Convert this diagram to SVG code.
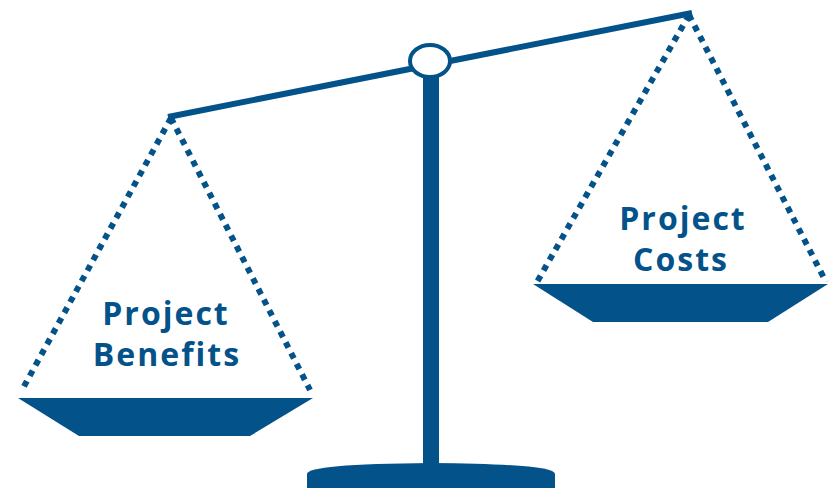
<svg xmlns="http://www.w3.org/2000/svg" width="829" height="488" viewBox="0 0 829 488">
<style>
.c{fill:#03528a}
.dot{fill:none;stroke:#03528a;stroke-width:6;stroke-dasharray:6 6}
.t{font-family:"Open Sans","Liberation Sans",sans-serif;font-weight:bold;font-size:32px;letter-spacing:2px;fill:#03528a;text-anchor:middle}
</style>
<rect width="829" height="488" fill="#ffffff"/>
<g id="connectors">
<path class="dot" d="M171,118 L22,390 M171,118 L310,390"/>
<path class="dot" d="M689,15 L537,282 M689,15 L826,282"/>
</g>
<g id="stand">
<path class="c" d="M307,488 L307,474 Q307,464 431,463 Q555,464 555,474 L555,488 Z"/>
<rect class="c" x="423" y="76" width="16" height="392"/>
</g>
<g id="beam">
<line x1="168" y1="117" x2="692" y2="13" stroke="#03528a" stroke-width="6"/>
<ellipse cx="430" cy="61" rx="20" ry="16" fill="#ffffff" stroke="#03528a" stroke-width="4"/>
</g>
<g id="left-pan">
<polygon class="c" points="18,398 313,398 250,436 79,436"/>
<text class="t" x="166" y="325">Project</text>
<text class="t" x="167" y="366">Benefits</text>
</g>
<g id="right-pan">
<polygon class="c" points="533,284 828,284 768,322 593,322"/>
<text class="t" x="683" y="230">Project</text>
<text class="t" x="681" y="271">Costs</text>
</g>
</svg>
